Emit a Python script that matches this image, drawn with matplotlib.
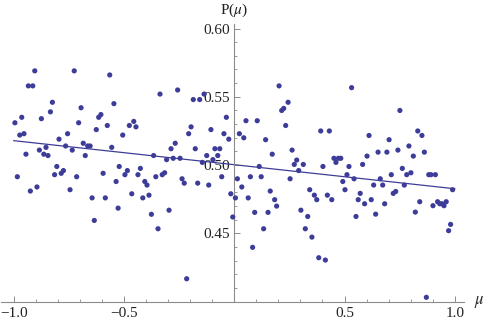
import matplotlib
matplotlib.use("Agg")
import matplotlib.pyplot as plt
from matplotlib.ticker import MultipleLocator, FixedLocator
import numpy as np

plt.rcParams['font.family'] = ['Liberation Serif', 'DejaVu Serif']
plt.rcParams['mathtext.fontset'] = 'stix'

# scatter data
mu = [
    -0.905, -0.726, -0.565, -0.934, -0.914, -0.825, -0.546, -0.834, -0.695, -0.964,
    -0.995, -0.875, -0.706, -0.605, -0.615, -0.576, -0.626, -0.954, -0.973, -0.756,
    -0.795, -0.685, -0.665, -0.654, -0.765, -0.854, -0.884, -0.735, -0.556, -0.945,
    -0.864, -0.845, -0.676, -0.805, -0.522, -0.984, -0.815, -0.785, -0.775, -0.715,
    -0.595, -0.536, -0.895, -0.925, -0.745, -0.645, -0.585, -0.527, -0.635,
    -0.337, -0.257, -0.186, -0.157, -0.137, -0.456, -0.476, -0.446, -0.506, -0.196,
    -0.207, -0.106, -0.036, -0.047, -0.025, -0.268, -0.287, -0.177, -0.088, -0.066,
    -0.366, -0.277, -0.246, -0.307, -0.125, -0.097, -0.075, -0.145, -0.485, -0.496,
    -0.426, -0.437, -0.316, -0.327, -0.356, -0.406, -0.396, -0.237, -0.227, -0.166,
    -0.116, -0.057, -0.465, -0.415, -0.387, -0.016, 0.005, -0.007, -0.376, -0.296,
    -0.346, -0.216,
    0.203, 0.215, 0.224, 0.244, 0.233, 0.053, 0.104, 0.023, 0.043, 0.142,
    0.392, 0.431, 0.262, 0.172, 0.283, 0.272, 0.313, 0.113, 0.292, 0.402,
    0.452, 0.472, 0.483, 0.461, 0.520, 0.511, 0.492, 0.502, 0.014, 0.073,
    0.122, 0.253, 0.034, 0.063, 0.163, 0.183, 0.192, 0.342, 0.363, 0.374,
    0.422, 0.442, 0.0925, 0.153, 0.302, 0.333, 0.133, 0.322, 0.352, 0.083,
    0.383, 0.413,
    0.532, 0.751, 0.832, 0.851, 0.611, 0.702, 0.652, 0.692, 0.742, 0.792,
    0.862, 0.812, 0.602, 0.582, 0.543, 0.762, 0.712, 0.782, 0.801, 0.882,
    0.892, 0.912, 0.662, 0.632, 0.673, 0.771, 0.990, 0.732, 0.721, 0.571,
    0.562, 0.621, 0.591, 0.682, 0.841, 0.821, 0.641, 0.552, 0.901, 0.922,
    0.932, 0.942, 0.951, 0.961, 0.981, 0.972, 0.871,
]
p_mu = [
    0.569, 0.569, 0.566, 0.558, 0.558, 0.546, 0.545, 0.539, 0.542, 0.535,
    0.531, 0.534, 0.531, 0.537, 0.535, 0.529, 0.526, 0.523, 0.522, 0.523,
    0.519, 0.516, 0.514, 0.514, 0.514, 0.513, 0.511, 0.511, 0.513, 0.508,
    0.508, 0.507, 0.507, 0.499, 0.499, 0.4915, 0.493, 0.494, 0.496, 0.4915,
    0.494, 0.488, 0.484, 0.481, 0.482, 0.476, 0.476, 0.4685, 0.4595,
    0.552, 0.555, 0.548, 0.548, 0.552, 0.532, 0.529, 0.528, 0.522, 0.528,
    0.523, 0.526, 0.535, 0.523, 0.519, 0.516, 0.512, 0.512, 0.512, 0.512,
    0.507, 0.505, 0.505, 0.504, 0.507, 0.504, 0.507, 0.502, 0.496, 0.493,
    0.4976, 0.493, 0.4944, 0.493, 0.4915, 0.488, 0.4854, 0.490, 0.4868, 0.4868,
    0.4854, 0.4915, 0.479, 0.476, 0.478, 0.479, 0.476, 0.462, 0.464, 0.467,
    0.4534, 0.4168,
    0.558, 0.540, 0.5415, 0.546, 0.529, 0.5325, 0.5325, 0.523, 0.520, 0.5186,
    0.525, 0.525, 0.511, 0.508, 0.5037, 0.5005, 0.5005, 0.499, 0.496, 0.499,
    0.505, 0.505, 0.505, 0.502, 0.499, 0.493, 0.488, 0.482, 0.490, 0.4915,
    0.4915, 0.490, 0.484, 0.476, 0.481, 0.4747, 0.470, 0.482, 0.478, 0.4747,
    0.478, 0.4747, 0.4654, 0.4654, 0.467, 0.4624, 0.4534, 0.4534, 0.4473, 0.4398,
    0.4322, 0.4305,
    0.5567, 0.540, 0.525, 0.5217, 0.5217, 0.5186, 0.5095, 0.5095, 0.511, 0.514,
    0.5095, 0.5066, 0.5066, 0.5005, 0.490, 0.4976, 0.493, 0.493, 0.4944, 0.493,
    0.493, 0.493, 0.490, 0.4854, 0.4854, 0.4854, 0.482, 0.4807, 0.4793, 0.4793,
    0.4747, 0.4747, 0.4717, 0.4717, 0.4732, 0.4656, 0.4641, 0.4624, 0.4703, 0.4732,
    0.4717, 0.4717, 0.4703, 0.4732, 0.4566, 0.452, 0.4032,
]

# fitted line P = a + b*mu
fit_a = 0.5003
fit_b = -0.0176
fit_range = [-1.0, 1.0]

dot_color = '#3d3d99'
axis_color = '#8c8c8c'

fig = plt.figure(figsize=(4.85, 3.23), dpi=100)
ax = fig.add_axes([0.0012, 0.0659, 0.9547, 0.8585])

ax.scatter(mu, p_mu, s=14, color=dot_color, edgecolors='none', zorder=3)
xs = np.array(fit_range)
ax.plot(xs, fit_a + fit_b * xs, color=dot_color, lw=0.9, zorder=2)

ax.set_xlim(-1.06, 1.04)
ax.set_ylim(0.40, 0.603)

for s in ['top', 'right']:
    ax.spines[s].set_visible(False)
ax.spines['left'].set_position(('data', 0))
ax.spines['left'].set_color(axis_color)
ax.spines['bottom'].set_color(axis_color)
ax.spines['left'].set_linewidth(0.8)
ax.spines['bottom'].set_linewidth(0.8)

ax.xaxis.set_major_locator(FixedLocator([-1.0, -0.5, 0.5, 1.0]))
ax.xaxis.set_minor_locator(MultipleLocator(0.1))
ax.yaxis.set_major_locator(FixedLocator([0.45, 0.50, 0.55, 0.60]))
ax.yaxis.set_minor_locator(MultipleLocator(0.01))
ax.set_xticklabels(['\u22121.0', '\u22120.5', '0.5', '1.0'])
ax.set_yticklabels(['0.45', '0.50', '0.55', '0.60'])

ax.tick_params(which='both', direction='in', color=axis_color, labelsize=11,
               labelcolor='#222222')
ax.tick_params(which='major', length=4.5, width=0.7)
ax.tick_params(which='minor', length=2.5, width=0.6)
ax.tick_params(axis='x', pad=4)
ax.tick_params(axis='y', pad=3)

# axis labels, Mathematica style: at the ends of the axes
ax.text(0, 1.05, r'P($\mu$)', transform=ax.get_xaxis_transform(),
        ha='center', va='center', fontsize=11, color='#222222', clip_on=False)
ax.text(1.034, 0.0, r'$\mu$', transform=ax.transAxes,
        ha='center', va='center', fontsize=12, color='#222222', clip_on=False)

fig.savefig('out.png', dpi=100)
